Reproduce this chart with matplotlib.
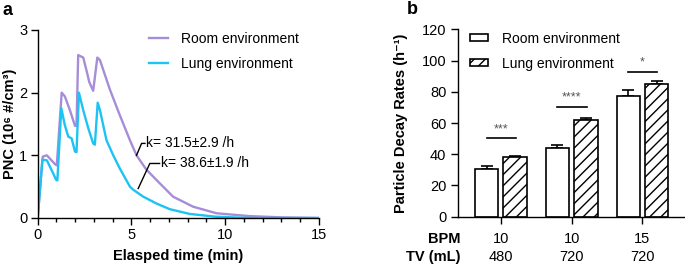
import matplotlib
matplotlib.use('Agg')
import matplotlib.pyplot as plt
from matplotlib.ticker import MultipleLocator

plt.rcParams['font.family'] = ['Liberation Sans', 'DejaVu Sans']
plt.rcParams['hatch.linewidth'] = 1.0

# panel a: particle number concentration over time
t_room = [0, 0.27, 0.49, 0.92, 1.02, 1.28, 1.45, 1.72, 1.99, 2.07, 2.16, 2.43, 2.64,
          2.75, 2.96, 3.18, 3.32, 3.85, 4.38, 4.92, 5.27, 5.8, 6.52, 7.22, 8.29, 9.54,
          11.3, 13.0, 15.0]
pnc_room = [0, 0.98, 1.0, 0.86, 0.84, 2.0, 1.94, 1.72, 1.47, 1.47, 2.6, 2.56, 2.31,
            2.17, 2.03, 2.56, 2.52, 2.05, 1.64, 1.24, 1.0, 0.77, 0.55, 0.34, 0.18, 0.075,
            0.03, 0.01, 0]
t_lung = [0, 0.25, 0.49, 0.83, 0.98, 1.05, 1.26, 1.45, 1.63, 1.81, 1.99, 2.07, 2.2,
          2.43, 2.7, 2.96, 3.05, 3.2, 3.32, 3.67, 4.03, 4.38, 4.92, 5.1, 5.63, 6.34,
          7.05, 8.1, 9.5, 11.3, 15.0]
pnc_lung = [0, 0.93, 0.92, 0.71, 0.61, 0.6, 1.75, 1.48, 1.3, 1.27, 1.06, 1.05, 2.0,
            1.72, 1.43, 1.19, 1.17, 1.84, 1.72, 1.24, 1.0, 0.79, 0.5, 0.45, 0.34, 0.23,
            0.14, 0.065, 0.02, 0.0, 0]

# panel b: decay rates
groups = [0, 1, 2]
bpm = ['10', '10', '15']
tv = ['480', '720', '720']
room_rate = [30.5, 44.3, 77.2]
room_err = [1.9, 1.9, 4.2]
lung_rate = [38.0, 61.7, 85.3]
lung_err = [1.1, 1.8, 1.3]
sig_labels = ['***', '****', '*']
sig_y = [50.2, 70.3, 92.9]

c_room = '#a68dd8'
c_lung = '#1cc3f4'

fig = plt.figure(figsize=(6.85, 2.65), dpi=100)

# ---- panel a
ax = fig.add_axes([0.055, 0.1774, 0.4107, 0.7094])
ax.plot(t_room, pnc_room, color=c_room, lw=1.7, label='Room environment')
ax.plot(t_lung, pnc_lung, color=c_lung, lw=1.7, label='Lung environment')
ax.set_xlim(0, 15)
ax.set_ylim(0, 3)
ax.set_xticks([0, 5, 10, 15])
ax.xaxis.set_minor_locator(MultipleLocator(1))
ax.set_yticks([0, 1, 2, 3])
for s in ['top', 'right']:
    ax.spines[s].set_visible(False)
for s in ['left', 'bottom']:
    ax.spines[s].set_linewidth(1.0)
ax.tick_params(which='major', length=5, width=1, labelsize=10.5, pad=2.5)
ax.tick_params(which='minor', length=3, width=1)
ax.set_xlabel('Elasped time (min)', fontsize=10.5, fontweight='bold', labelpad=5)
ax.set_ylabel('PNC (10\u2076 #/cm\u00b3)', fontsize=10.5, fontweight='bold')
ax.yaxis.set_label_coords(-0.075, 0.5)
ax.legend(loc='upper left', bbox_to_anchor=(0.35, 1.055), frameon=False,
          fontsize=10, handlelength=1.4, handletextpad=0.9, labelspacing=0.8)

# leader lines for decay constants
ax.plot([5.27, 5.54, 5.72], [1.0, 1.19, 1.19], color='black', lw=1)
ax.text(5.75, 1.19, 'k= 31.5\u00b12.9 /h', fontsize=10, va='center', ha='left')
ax.plot([5.36, 5.98, 6.5], [0.47, 0.87, 0.87], color='black', lw=1)
ax.text(6.55, 0.87, 'k= 38.6\u00b11.9 /h', fontsize=10, va='center', ha='left')

fig.text(0.004, 0.962, 'a', fontsize=13, fontweight='bold', va='center')

# ---- panel b
bx = fig.add_axes([0.668, 0.1823, 0.332, 0.707])
w = 0.33
off = 0.2
pos_room = [g - off for g in groups]
pos_lung = [g + off for g in groups]
bx.bar(pos_room, room_rate, width=w, color='white', edgecolor='black', lw=1.2,
       label='Room environment', zorder=2)
bx.bar(pos_lung, lung_rate, width=w, color='white', edgecolor='black', lw=1.2,
       hatch='///', label='Lung environment', zorder=2)
bx.errorbar(pos_room, room_rate, yerr=[[0] * 3, room_err], fmt='none',
            ecolor='black', elinewidth=1.2, capsize=4.5, capthick=1.2, zorder=1)
bx.errorbar(pos_lung, lung_rate, yerr=[[0] * 3, lung_err], fmt='none',
            ecolor='black', elinewidth=1.2, capsize=4.5, capthick=1.2, zorder=1)

for g, lab, y in zip(groups, sig_labels, sig_y):
    bx.plot([g - 0.2, g + 0.21], [y, y], color='black', lw=1.2)
    bx.text(g, y + 2.0, lab, ha='center', va='bottom', fontsize=9, color='#555555')

bx.set_xlim(-0.61, 2.6)
bx.set_ylim(0, 120)
bx.set_yticks(range(0, 121, 20))
bx.set_xticks(groups)
bx.set_xticklabels([b + '\n' + v for b, v in zip(bpm, tv)], fontsize=10.5,
                   linespacing=1.4)
for s in ['top', 'right']:
    bx.spines[s].set_visible(False)
for s in ['left', 'bottom']:
    bx.spines[s].set_linewidth(1.0)
bx.tick_params(axis='y', which='major', length=5, width=1, labelsize=10.5, pad=3)
bx.tick_params(axis='x', which='major', length=5, width=1, labelsize=10.5, pad=6)
bx.set_ylabel('Particle Decay Rates (h\u207b\u00b9)', fontsize=10.5,
              fontweight='bold')
bx.yaxis.set_label_coords(-0.22, 0.5)
bx.legend(loc='upper left', bbox_to_anchor=(0.0, 1.055), frameon=False,
          fontsize=10, handlelength=1.3, handleheight=0.45, handletextpad=1.0,
          labelspacing=0.8)

fig.text(0.672, 0.098, 'BPM', fontsize=10.5, fontweight='bold', ha='right', va='center')
fig.text(0.672, 0.030, 'TV (mL)', fontsize=10.5, fontweight='bold', ha='right', va='center')
fig.text(0.594, 0.965, 'b', fontsize=13, fontweight='bold', va='center')

fig.savefig('out.png', dpi=100)
